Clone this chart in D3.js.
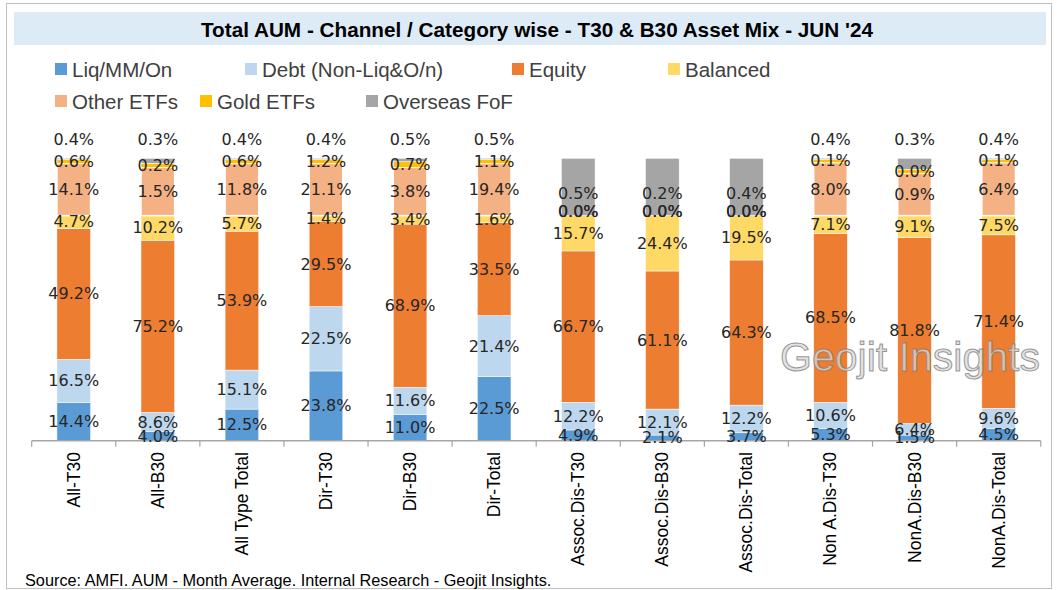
<!DOCTYPE html>
<html>
<head>
<meta charset="utf-8">
<script src="https://cdn.jsdelivr.net/npm/d3@7"></script>
<style>
  body { margin: 0; background: #fff; }
  svg text { font-family: "Liberation Sans", Arial, sans-serif; }
</style>
</head>
<body>
<div id="chart"></div>
<script>
// categories (x axis)
const categories = ["All-T30", "All-B30", "All Type Total", "Dir-T30", "Dir-B30", "Dir-Total",
  "Assoc.Dis-T30", "Assoc.Dis-B30", "Assoc.Dis-Total", "Non A.Dis-T30", "NonA.Dis-B30", "NonA.Dis-Total"];

const seriesNames = ["Liq/MM/On", "Debt (Non-Liq&O/n)", "Equity", "Balanced", "Other ETFs", "Gold ETFs", "Overseas FoF"];
const seriesColors = ["#5B9BD5", "#BDD7EE", "#ED7D31", "#FFD966", "#F4B183", "#FFC000", "#A5A5A5"];

// segment heights as drawn in the chart (share of bar)
const liqBar      = [13.6, 3.2, 11.2, 24.7, 9.3, 22.7, 3.8, 2.0, 2.8, 4.4, 2.0, 4.4];
const debtBar     = [15.2, 6.8, 13.8, 22.8, 9.6, 21.6, 9.8, 9.2, 9.8, 9.2, 4.1, 7.1];
const equityBar   = [46.4, 61.0, 49.2, 30.1, 57.8, 32.9, 53.6, 48.9, 51.4, 59.8, 65.9, 61.4];
const balancedBar = [4.5, 8.7, 5.5, 2.1, 3.0, 2.5, 12.5, 19.6, 15.7, 6.3, 7.7, 6.8];
const otherEtfBar = [18.5, 17.1, 18.5, 18.5, 17.1, 18.5, 0, 0, 0, 18.8, 15.0, 18.8];
const goldEtfBar  = [1.4, 1.4, 1.4, 1.4, 2.0, 1.4, 0, 0, 0, 1.1, 1.4, 1.1];
const overseasBar = [0.4, 1.8, 0.4, 0.4, 1.2, 0.4, 20.3, 20.3, 20.3, 0.4, 3.9, 0.4];

// data labels printed on the segments (%)
const liqLabel      = [14.4, 4.0, 12.5, 23.8, 11.0, 22.5, 4.9, 2.1, 3.7, 5.3, 1.5, 4.5];
const debtLabel     = [16.5, 8.6, 15.1, 22.5, 11.6, 21.4, 12.2, 12.1, 12.2, 10.6, 6.4, 9.6];
const equityLabel   = [49.2, 75.2, 53.9, 29.5, 68.9, 33.5, 66.7, 61.1, 64.3, 68.5, 81.8, 71.4];
const balancedLabel = [4.7, 10.2, 5.7, 1.4, 3.4, 1.6, 15.7, 24.4, 19.5, 7.1, 9.1, 7.5];
const otherEtfLabel = [14.1, 1.5, 11.8, 21.1, 3.8, 19.4, 0.0, 0.0, 0.0, 8.0, 0.9, 6.4];
const goldEtfLabel  = [0.6, 0.2, 0.6, 1.2, 0.7, 1.1, 0.0, 0.0, 0.0, 0.1, 0.0, 0.1];
const overseasLabel = [0.4, 0.3, 0.4, 0.4, 0.5, 0.5, 0.5, 0.2, 0.4, 0.4, 0.3, 0.4];

const barValues = [liqBar, debtBar, equityBar, balancedBar, otherEtfBar, goldEtfBar, overseasBar];
const labelValues = [liqLabel, debtLabel, equityLabel, balancedLabel, otherEtfLabel, goldEtfLabel, overseasLabel];

const title = "Total AUM - Channel / Category wise - T30 & B30 Asset Mix - JUN '24";
const source = "Source: AMFI. AUM - Month Average. Internal Research - Geojit Insights.";

const W = 1057, H = 590;
const svg = d3.select("#chart").append("svg")
    .attr("width", W)
    .attr("height", H);

// outer frame
svg.append("rect")
    .attr("x", 6.5).attr("y", 3.5)
    .attr("width", 1045).attr("height", 585)
    .attr("fill", "#fff")
    .attr("stroke", "#BFBFBF");

// title band
svg.append("rect")
    .attr("x", 14).attr("y", 12)
    .attr("width", 1032).attr("height", 33)
    .attr("fill", "#DDEBF7");
svg.append("text")
    .attr("x", 537).attr("y", 29)
    .attr("text-anchor", "middle")
    .attr("dominant-baseline", "central")
    .attr("textLength", 672)
    .attr("lengthAdjust", "spacingAndGlyphs")
    .style("font-size", "21px")
    .style("font-weight", "bold")
    .attr("fill", "#000")
    .text(title);

// legend
const legendPos = [[55, 69], [245, 69], [512, 69], [668, 69], [55, 101], [200, 101], [366, 101]];
const legend = svg.append("g")
    .selectAll("g")
    .data(seriesNames)
    .enter().append("g")
    .attr("transform", (d, i) => `translate(${legendPos[i][0]},${legendPos[i][1]})`);
legend.append("rect")
    .attr("x", 0).attr("y", -6)
    .attr("width", 12).attr("height", 12)
    .attr("fill", (d, i) => seriesColors[i]);
legend.append("text")
    .attr("x", 17).attr("y", 0)
    .attr("dominant-baseline", "central")
    .style("font-size", "20.5px")
    .attr("fill", "#404040")
    .text(d => d);

// scales
const x = d3.scaleBand()
    .domain(categories)
    .range([31.7, 1040.7])
    .paddingInner(0.6)
    .paddingOuter(0.3);

const y = d3.scaleLinear()
    .domain([0, 100])
    .range([440.7, 158.3]);

// stack the drawn values
const rows = categories.map((c, i) => {
  const r = { cat: c };
  seriesNames.forEach((s, k) => { r[s] = barValues[k][i]; });
  return r;
});
const stacked = d3.stack().keys(seriesNames)(rows);

const layers = svg.append("g")
    .selectAll("g")
    .data(stacked)
    .enter().append("g")
    .attr("fill", (d, k) => seriesColors[k]);

layers.selectAll("rect")
    .data(d => d.filter(p => p[1] - p[0] > 0))
    .enter().append("rect")
    .attr("x", p => x(p.data.cat))
    .attr("y", p => y(p[1]))
    .attr("width", x.bandwidth())
    .attr("height", p => y(p[0]) - y(p[1]))
    .attr("stroke", "#fff")
    .attr("stroke-width", function() {
      return d3.select(this.parentNode).datum().key === "Other ETFs" ? 1.5 : 0.5;
    });

// x axis
const step = x.step();
const axisY = y(0);
svg.append("line")
    .attr("x1", 31.7).attr("x2", 1040.7)
    .attr("y1", axisY).attr("y2", axisY)
    .attr("stroke", "#A6A6A6").attr("stroke-width", 1.5);
svg.append("g")
    .selectAll("line")
    .data(d3.range(categories.length + 1))
    .enter().append("line")
    .attr("x1", i => 31.7 + i * step).attr("x2", i => 31.7 + i * step)
    .attr("y1", axisY).attr("y2", axisY + 6)
    .attr("stroke", "#A6A6A6").attr("stroke-width", 1.2);

svg.append("g")
    .selectAll("text")
    .data(categories)
    .enter().append("text")
    .attr("transform", d => `translate(${x(d) + x.bandwidth() / 2},452) rotate(-90)`)
    .attr("text-anchor", "end")
    .attr("dominant-baseline", "central")
    .style("font-size", "17.5px")
    .attr("fill", "#000")
    .text(d => d);

// data labels
const labelG = svg.append("g");
stacked.forEach((layer, k) => {
  layer.forEach((p, i) => {
    const h = p[1] - p[0];
    let ly = (y(p[0]) + y(p[1])) / 2;
    if (layer.key === "Overseas FoF") {
      ly = h < 5 ? y(100) - 19 : y(p[0]) - 22;
    } else if (h === 0) {
      ly = y(p[0]) - 4;
    }
    labelG.append("text")
        .attr("x", x(p.data.cat) + x.bandwidth() / 2)
        .attr("y", ly)
        .attr("text-anchor", "middle")
        .attr("dominant-baseline", "central")
        .style("font-family", "'DejaVu Sans', Verdana, sans-serif")
        .style("font-size", "16px")
        .attr("fill", "#262626")
        .text(labelValues[k][i].toFixed(1) + "%");
  });
});

// watermark
svg.append("text")
    .attr("x", 910).attr("y", 357)
    .attr("text-anchor", "middle")
    .attr("dominant-baseline", "central")
    .style("font-size", "41px")
    .attr("fill", "rgba(215,215,215,0.75)")
    .attr("stroke", "rgba(120,120,120,0.75)")
    .attr("stroke-width", 1)
    .text("Geojit Insights");

// source
svg.append("text")
    .attr("x", 25).attr("y", 580)
    .attr("dominant-baseline", "central")
    .style("font-size", "16.3px")
    .attr("fill", "#000")
    .text(source);
</script>
</body>
</html>
